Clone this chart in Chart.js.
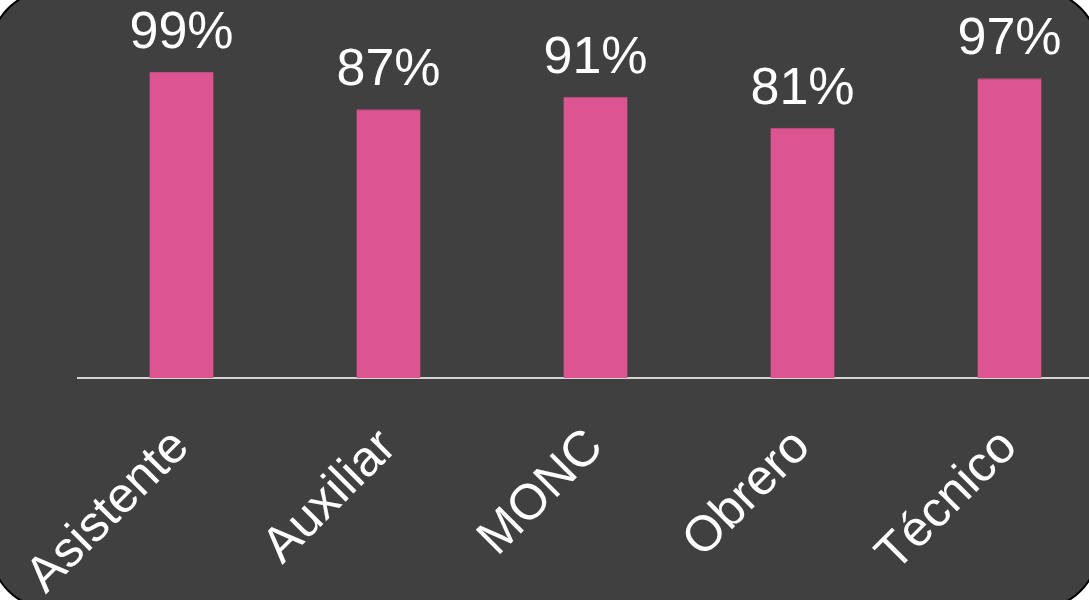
<!DOCTYPE html>
<html>
<head>
<meta charset="utf-8">
<script src="https://cdn.jsdelivr.net/npm/chart.js@4"></script>
<style>
  html, body { margin: 0; padding: 0; width: 1089px; height: 600px; overflow: hidden; background: #ffffff; }
  #frame {
    position: absolute; left: -10px; top: -10px; width: 1105px; height: 615px;
    background: #404040; border: 2px solid #000; border-radius: 60px;
  }
  #wrap { position: absolute; left: 0; top: 0; width: 1113px; height: 600px; }
</style>
</head>
<body>
<div id="frame"></div>
<div id="wrap"><canvas id="chart"></canvas></div>
<script>
// Categories and values
const categories = ['Asistente', 'Auxiliar', 'MONC', 'Obrero', 'Técnico'];
const values = [99, 87, 91, 81, 97];

// Draws the "99%" labels above each bar
const valueLabels = {
  id: 'valueLabels',
  afterDatasetsDraw(chart) {
    const ctx = chart.ctx;
    const meta = chart.getDatasetMeta(0);
    ctx.save();
    ctx.fillStyle = '#ffffff';
    ctx.font = '52px "Liberation Sans", Arial, sans-serif';
    ctx.textAlign = 'center';
    ctx.textBaseline = 'alphabetic';
    meta.data.forEach((bar, i) => {
      ctx.fillText(values[i] + '%', bar.x, bar.y - 24);
    });
    ctx.restore();
  }
};

const ctx = document.getElementById('chart').getContext('2d');
const chart = new Chart(ctx, {
  type: 'bar',
  data: {
    labels: categories,
    datasets: [{
      data: values,
      backgroundColor: '#dd5590',
      borderColor: '#c94a80',
      borderWidth: { top: 1, left: 0, right: 0, bottom: 0 },
      barPercentage: 0.62,
      categoryPercentage: 0.5
    }]
  },
  options: {
    responsive: true,
    maintainAspectRatio: false,
    animation: false,
    layout: { padding: { left: 78, right: 0, top: 69, bottom: 0 } },
    plugins: { legend: { display: false }, tooltip: { enabled: false } },
    scales: {
      x: {
        grid: { display: true, color: 'transparent', drawTicks: false },
        border: { display: true, color: '#d4d4d4', width: 2 },
        ticks: {
          color: '#ffffff',
          minRotation: 45,
          maxRotation: 45,
          padding: 40,
          font: { family: '"Liberation Sans", Arial, sans-serif', size: 50 }
        },
        afterFit(scale) {
          scale.height = 222;
          // keep the plot area where the reference has it
          scale.paddingLeft = 0;
          scale.paddingRight = 0;
        }
      },
      y: {
        display: false,
        min: 0,
        max: 100
      }
    }
  },
  plugins: [valueLabels]
});
</script>
</body>
</html>
